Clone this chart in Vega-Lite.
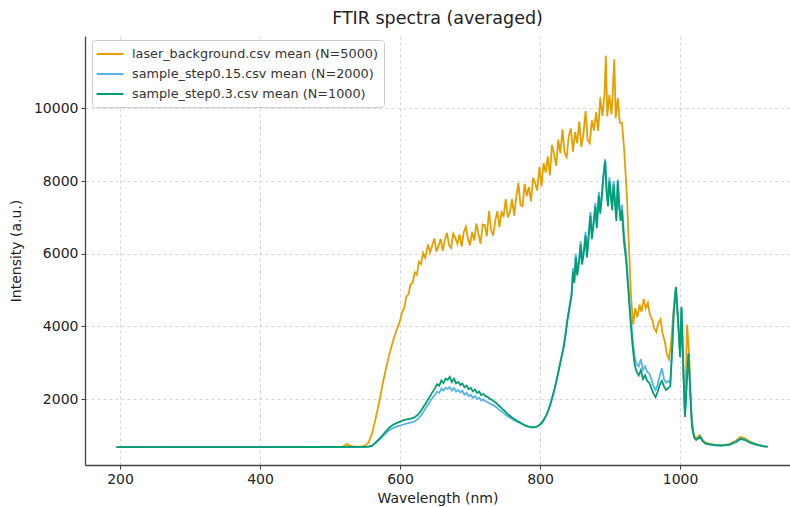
{
  "$schema": "https://vega.github.io/schema/vega-lite/v6.json",
  "autosize": "none",
  "width": 705,
  "height": 429,
  "padding": {"left": 85, "top": 36, "right": 0, "bottom": 42},
  "background": "white",
  "config": {
    "view": {"stroke": null},
    "font": "DejaVu Sans",
    "axis": {
      "labelFont": "DejaVu Sans", "titleFont": "DejaVu Sans",
      "labelFontSize": 14, "titleFontSize": 14,
      "labelColor": "#222", "titleColor": "#222", "titleFontWeight": "normal",
      "domainColor": "#444", "domainWidth": 1.3,
      "tickColor": "#444", "tickSize": 4, "tickWidth": 1,
      "gridColor": "#cccccc", "gridDash": [3, 3], "gridWidth": 0.8
    }
  },
  "title": {"text": "FTIR spectra (averaged)", "fontSize": 17.5, "font": "DejaVu Sans", "fontWeight": "normal", "color": "#222", "anchor": "middle", "offset": 9},
  "datasets": {
    "bg": [
      {"w":195,"v":680},{"w":250,"v":682},{"w":300,"v":680},{"w":350,"v":681},{"w":400,"v":680},{"w":450,"v":682},{"w":500,"v":684},{"w":518,"v":690},
      {"w":524,"v":760},{"w":528,"v":720},{"w":535,"v":690},{"w":545,"v":700},{"w":550,"v":720},{"w":555,"v":800},
      {"w":560,"v":1050},{"w":565,"v":1450},{"w":570,"v":1900},{"w":575,"v":2400},{"w":580,"v":2850},{"w":585,"v":3250},{"w":590,"v":3600},{"w":595,"v":3900},
      {"w":600,"v":4150},{"w":603,"v":4400},{"w":606,"v":4500},{"w":609,"v":4820},{"w":612,"v":4880},{"w":615,"v":5150},{"w":618,"v":5200},{"w":621,"v":5480},{"w":624,"v":5420},{"w":627,"v":5780},
      {"w":630,"v":5720},{"w":633,"v":6020},{"w":636,"v":5880},{"w":640,"v":6255},{"w":643,"v":6030},{"w":646,"v":6225},{"w":649,"v":6420},{"w":652,"v":6055},{"w":655,"v":6215},{"w":658,"v":6410},
      {"w":661,"v":6080},{"w":664,"v":6380},{"w":667,"v":6575},{"w":670,"v":6245},{"w":673,"v":6155},{"w":676,"v":6555},{"w":679,"v":6430},{"w":682,"v":6270},{"w":685,"v":6530},{"w":688,"v":6195},
      {"w":691,"v":6590},{"w":694,"v":6740},{"w":697,"v":6400},{"w":700,"v":6230},{"w":703,"v":6600},{"w":706,"v":6360},{"w":709,"v":6830},{"w":712,"v":6550},{"w":715,"v":6270},{"w":718,"v":6800},
      {"w":721,"v":6790},{"w":724,"v":6480},{"w":727,"v":7170},{"w":730,"v":6660},{"w":733,"v":6500},{"w":736,"v":6910},{"w":739,"v":7170},{"w":742,"v":6730},{"w":745,"v":7140},{"w":748,"v":7040},
      {"w":751,"v":7500},{"w":754,"v":7000},{"w":757,"v":7150},{"w":760,"v":7500},{"w":763,"v":7050},{"w":766,"v":7550},{"w":769,"v":7950},{"w":772,"v":7350},{"w":775,"v":7310},{"w":778,"v":7920},
      {"w":781,"v":7580},{"w":784,"v":7840},{"w":787,"v":7440},{"w":790,"v":8090},{"w":793,"v":7940},{"w":796,"v":7740},{"w":799,"v":8390},{"w":802,"v":7850},{"w":805,"v":8495},{"w":808,"v":8230},
      {"w":811,"v":8680},{"w":814,"v":8155},{"w":817,"v":8995},{"w":820,"v":8730},{"w":823,"v":8415},{"w":826,"v":9140},{"w":829,"v":8760},{"w":832,"v":9420},{"w":835,"v":8780},{"w":838,"v":8660},
      {"w":841,"v":9235},{"w":844,"v":9445},{"w":847,"v":8810},{"w":850,"v":9345},{"w":853,"v":9035},{"w":856,"v":9635},{"w":859,"v":8935},{"w":862,"v":9295},{"w":865,"v":9925},{"w":868,"v":9125},
      {"w":871,"v":9040},{"w":874,"v":9670},{"w":877,"v":9390},{"w":880,"v":9890},{"w":883,"v":9380},{"w":886,"v":10300},{"w":889,"v":9790},{"w":892,"v":10360},{"w":894,"v":11450},{"w":896,"v":9780},
      {"w":899,"v":10370},{"w":902,"v":9830},{"w":904,"v":10500},{"w":906,"v":11350},{"w":908,"v":9730},{"w":911,"v":10280},{"w":914,"v":9600},{"w":917,"v":9600},{"w":920,"v":8900},{"w":924,"v":7600},
      {"w":927,"v":6200},{"w":930,"v":4800},{"w":933,"v":4050},{"w":936,"v":4500},{"w":939,"v":4250},{"w":942,"v":4600},{"w":945,"v":4400},{"w":948,"v":4750},{"w":951,"v":4500},{"w":954,"v":4650},
      {"w":957,"v":4300},{"w":960,"v":4200},{"w":963,"v":3950},{"w":966,"v":3850},{"w":969,"v":4100},{"w":972,"v":4200},{"w":975,"v":3800},{"w":978,"v":3600},{"w":981,"v":3250},{"w":984,"v":3100},
      {"w":987,"v":3500},{"w":990,"v":4300},{"w":994,"v":5050},{"w":997,"v":4250},{"w":1000,"v":3250},{"w":1002,"v":4450},{"w":1005,"v":2600},{"w":1007,"v":1600},{"w":1010,"v":4050},{"w":1013,"v":3200},
      {"w":1016,"v":1600},{"w":1019,"v":1100},{"w":1022,"v":900},{"w":1025,"v":960},{"w":1028,"v":1010},{"w":1031,"v":900},{"w":1035,"v":820},{"w":1040,"v":780},{"w":1050,"v":740},{"w":1060,"v":730},
      {"w":1070,"v":760},{"w":1080,"v":860},{"w":1086,"v":960},{"w":1092,"v":930},{"w":1100,"v":830},{"w":1110,"v":750},{"w":1120,"v":700},{"w":1125,"v":690}
    ],
    "s15": [
      {"w":195,"v":680},{"w":300,"v":680},{"w":400,"v":680},{"w":500,"v":680},{"w":550,"v":682},{"w":555,"v":690},{"w":560,"v":715},{"w":565,"v":790},{"w":570,"v":880},{"w":575,"v":970},
      {"w":580,"v":1070},{"w":585,"v":1150},{"w":590,"v":1200},{"w":595,"v":1240},{"w":600,"v":1270},{"w":605,"v":1300},{"w":610,"v":1330},{"w":615,"v":1350},{"w":620,"v":1380},{"w":625,"v":1440},
      {"w":630,"v":1550},{"w":635,"v":1700},{"w":640,"v":1850},{"w":645,"v":2000},{"w":650,"v":2120},{"w":653,"v":2200},{"w":656,"v":2170},{"w":659,"v":2290},{"w":662,"v":2230},{"w":665,"v":2310},
      {"w":668,"v":2280},{"w":671,"v":2330},{"w":674,"v":2230},{"w":677,"v":2310},{"w":680,"v":2210},{"w":683,"v":2250},{"w":686,"v":2180},{"w":689,"v":2230},{"w":692,"v":2120},{"w":695,"v":2170},
      {"w":698,"v":2080},{"w":701,"v":2120},{"w":704,"v":2030},{"w":707,"v":2080},{"w":710,"v":2000},{"w":713,"v":2040},{"w":716,"v":1960},{"w":719,"v":1990},{"w":722,"v":1940},{"w":725,"v":1920},
      {"w":728,"v":1880},{"w":731,"v":1850},{"w":734,"v":1820},{"w":737,"v":1780},{"w":740,"v":1730},{"w":743,"v":1690},{"w":746,"v":1640},{"w":749,"v":1600},{"w":752,"v":1550},{"w":755,"v":1510},
      {"w":758,"v":1470},{"w":761,"v":1440},{"w":764,"v":1410},{"w":767,"v":1380},{"w":770,"v":1360},{"w":773,"v":1330},{"w":776,"v":1300},{"w":779,"v":1270},{"w":782,"v":1250},{"w":785,"v":1230},
      {"w":788,"v":1220},{"w":791,"v":1220},{"w":794,"v":1230},{"w":797,"v":1260},{"w":800,"v":1300},{"w":803,"v":1360},{"w":806,"v":1450},{"w":809,"v":1560},{"w":812,"v":1700},{"w":815,"v":1880},
      {"w":818,"v":2080},{"w":821,"v":2300},{"w":824,"v":2560},{"w":827,"v":2830},{"w":830,"v":3120},{"w":833,"v":3380},{"w":836,"v":3750},{"w":839,"v":4200},{"w":842,"v":4560},{"w":845,"v":4900},
      {"w":847,"v":5600},{"w":849,"v":5300},{"w":851,"v":6000},{"w":853,"v":5500},{"w":856,"v":5900},{"w":858,"v":6350},{"w":860,"v":5800},{"w":863,"v":6200},{"w":865,"v":6600},{"w":867,"v":6000},
      {"w":870,"v":6700},{"w":872,"v":7150},{"w":874,"v":6500},{"w":877,"v":7000},{"w":879,"v":7400},{"w":881,"v":6800},{"w":884,"v":7700},{"w":886,"v":7200},{"w":888,"v":7600},{"w":890,"v":8100},
      {"w":893,"v":8600},{"w":895,"v":7800},{"w":897,"v":7400},{"w":899,"v":8100},{"w":901,"v":7700},{"w":903,"v":7300},{"w":905,"v":8000},{"w":907,"v":7500},{"w":909,"v":7000},{"w":911,"v":8050},
      {"w":913,"v":7400},{"w":915,"v":7000},{"w":917,"v":7350},{"w":920,"v":6500},{"w":923,"v":6000},{"w":926,"v":5200},{"w":929,"v":4400},{"w":932,"v":3700},{"w":935,"v":3150},{"w":938,"v":2950},
      {"w":941,"v":2900},{"w":944,"v":3100},{"w":947,"v":2800},{"w":950,"v":2900},{"w":953,"v":2750},{"w":956,"v":2700},{"w":959,"v":2550},{"w":962,"v":2350},{"w":965,"v":2250},{"w":968,"v":2400},
      {"w":971,"v":2650},{"w":974,"v":2850},{"w":977,"v":2550},{"w":980,"v":2450},{"w":983,"v":2500},{"w":986,"v":2450},{"w":989,"v":3550},{"w":991,"v":4400},{"w":994,"v":5050},{"w":997,"v":4150},
      {"w":1000,"v":3200},{"w":1002,"v":4500},{"w":1005,"v":2650},{"w":1007,"v":1550},{"w":1010,"v":2650},{"w":1012,"v":3250},{"w":1015,"v":2050},{"w":1017,"v":1260},{"w":1020,"v":960},{"w":1023,"v":880},
      {"w":1026,"v":920},{"w":1029,"v":960},{"w":1032,"v":850},{"w":1036,"v":780},{"w":1040,"v":760},{"w":1050,"v":735},{"w":1060,"v":725},{"w":1070,"v":745},{"w":1080,"v":830},{"w":1086,"v":910},
      {"w":1092,"v":890},{"w":1100,"v":805},{"w":1110,"v":745},{"w":1120,"v":700},{"w":1125,"v":690}
    ],
    "s03": [
      {"w":195,"v":680},{"w":300,"v":680},{"w":400,"v":680},{"w":500,"v":681},{"w":550,"v":683},{"w":555,"v":690},{"w":560,"v":720},{"w":565,"v":800},{"w":570,"v":900},{"w":575,"v":1000},
      {"w":580,"v":1120},{"w":585,"v":1220},{"w":590,"v":1290},{"w":595,"v":1340},{"w":600,"v":1380},{"w":605,"v":1420},{"w":610,"v":1440},{"w":615,"v":1460},{"w":620,"v":1490},{"w":625,"v":1560},
      {"w":630,"v":1680},{"w":635,"v":1830},{"w":640,"v":1990},{"w":645,"v":2150},{"w":650,"v":2300},{"w":653,"v":2410},{"w":656,"v":2370},{"w":659,"v":2510},{"w":662,"v":2440},{"w":665,"v":2560},
      {"w":668,"v":2530},{"w":671,"v":2610},{"w":674,"v":2470},{"w":677,"v":2560},{"w":680,"v":2430},{"w":683,"v":2470},{"w":686,"v":2390},{"w":689,"v":2430},{"w":692,"v":2320},{"w":695,"v":2370},
      {"w":698,"v":2270},{"w":701,"v":2310},{"w":704,"v":2210},{"w":707,"v":2260},{"w":710,"v":2170},{"w":713,"v":2210},{"w":716,"v":2110},{"w":719,"v":2140},{"w":722,"v":2080},{"w":725,"v":2060},
      {"w":728,"v":2010},{"w":731,"v":1980},{"w":734,"v":1940},{"w":737,"v":1900},{"w":740,"v":1840},{"w":743,"v":1790},{"w":746,"v":1730},{"w":749,"v":1680},{"w":752,"v":1620},{"w":755,"v":1570},
      {"w":758,"v":1520},{"w":761,"v":1480},{"w":764,"v":1440},{"w":767,"v":1400},{"w":770,"v":1370},{"w":773,"v":1340},{"w":776,"v":1300},{"w":779,"v":1280},{"w":782,"v":1250},{"w":785,"v":1240},
      {"w":788,"v":1220},{"w":791,"v":1230},{"w":794,"v":1230},{"w":797,"v":1260},{"w":800,"v":1300},{"w":803,"v":1360},{"w":806,"v":1450},{"w":809,"v":1560},{"w":812,"v":1700},{"w":815,"v":1880},
      {"w":818,"v":2080},{"w":821,"v":2300},{"w":824,"v":2550},{"w":827,"v":2820},{"w":830,"v":3100},{"w":833,"v":3350},{"w":836,"v":3700},{"w":839,"v":4150},{"w":842,"v":4500},{"w":845,"v":4850},
      {"w":847,"v":5500},{"w":849,"v":5200},{"w":851,"v":5900},{"w":853,"v":5400},{"w":856,"v":5800},{"w":858,"v":6250},{"w":860,"v":5700},{"w":863,"v":6100},{"w":865,"v":6500},{"w":867,"v":5900},
      {"w":870,"v":6600},{"w":872,"v":7050},{"w":874,"v":6400},{"w":877,"v":6900},{"w":879,"v":7300},{"w":881,"v":6700},{"w":884,"v":7600},{"w":886,"v":7100},{"w":888,"v":7500},{"w":890,"v":8000},
      {"w":893,"v":8550},{"w":895,"v":7700},{"w":897,"v":7300},{"w":899,"v":8000},{"w":901,"v":7600},{"w":903,"v":7200},{"w":905,"v":7900},{"w":907,"v":7400},{"w":909,"v":6900},{"w":911,"v":8000},
      {"w":913,"v":7300},{"w":915,"v":6900},{"w":917,"v":7200},{"w":920,"v":6300},{"w":923,"v":5800},{"w":926,"v":5000},{"w":929,"v":4200},{"w":932,"v":3500},{"w":935,"v":2950},{"w":938,"v":2750},
      {"w":941,"v":2650},{"w":944,"v":2800},{"w":947,"v":2550},{"w":950,"v":2650},{"w":953,"v":2500},{"w":956,"v":2450},{"w":959,"v":2300},{"w":962,"v":2150},{"w":965,"v":2050},{"w":968,"v":2200},
      {"w":971,"v":2400},{"w":974,"v":2500},{"w":977,"v":2350},{"w":980,"v":2250},{"w":983,"v":2300},{"w":986,"v":2350},{"w":989,"v":3500},{"w":991,"v":4400},{"w":994,"v":5090},{"w":997,"v":4200},
      {"w":1000,"v":3150},{"w":1002,"v":4540},{"w":1005,"v":2600},{"w":1007,"v":1510},{"w":1010,"v":2600},{"w":1012,"v":3250},{"w":1015,"v":2000},{"w":1017,"v":1240},{"w":1020,"v":950},{"w":1023,"v":880},
      {"w":1026,"v":920},{"w":1029,"v":960},{"w":1032,"v":850},{"w":1036,"v":780},{"w":1040,"v":760},{"w":1050,"v":730},{"w":1060,"v":720},{"w":1070,"v":740},{"w":1080,"v":820},{"w":1086,"v":900},
      {"w":1092,"v":880},{"w":1100,"v":800},{"w":1110,"v":740},{"w":1120,"v":700},{"w":1125,"v":690}
    ]
  },
  "encoding": {
    "x": {"field": "w", "type": "quantitative", "scale": {"domain": [150, 1157], "nice": false, "zero": false},
          "axis": {"title": "Wavelength (nm)", "values": [200, 400, 600, 800, 1000], "labelPadding": 3, "titlePadding": 5, "format": "d"}},
    "y": {"field": "v", "type": "quantitative", "scale": {"domain": [186, 11990], "nice": false, "zero": false},
          "axis": {"title": "Intensity (a.u.)", "values": [2000, 4000, 6000, 8000, 10000], "labelPadding": 3, "titlePadding": 10, "format": "d"}}
  },
  "layer": [
    {"data": {"name": "bg"}, "mark": {"type": "line", "strokeWidth": 1.8},
     "encoding": {"color": {"datum": "laser_background.csv mean (N=5000)", "type": "nominal",
        "scale": {"domain": ["laser_background.csv mean (N=5000)", "sample_step0.15.csv mean (N=2000)", "sample_step0.3.csv mean (N=1000)"], "range": ["#E69F00", "#56B4E9", "#009E73"]},
        "legend": {"title": null, "orient": "none", "legendX": 7, "legendY": 4, "fillColor": "white", "strokeColor": "#cccccc", "cornerRadius": 3, "padding": 6,
                   "symbolType": "M-2,0H2", "symbolSize": 180, "symbolStrokeWidth": 2, "symbolOffset": 4, "labelFont": "DejaVu Sans", "labelFontSize": 12.8, "labelColor": "#333", "labelLimit": 0, "rowPadding": 5, "labelOffset": 14}}}},
    {"data": {"name": "s15"}, "mark": {"type": "line", "strokeWidth": 1.8},
     "encoding": {"color": {"datum": "sample_step0.15.csv mean (N=2000)", "type": "nominal"}}},
    {"data": {"name": "s03"}, "mark": {"type": "line", "strokeWidth": 1.8},
     "encoding": {"color": {"datum": "sample_step0.3.csv mean (N=1000)", "type": "nominal"}}}
  ]
}
